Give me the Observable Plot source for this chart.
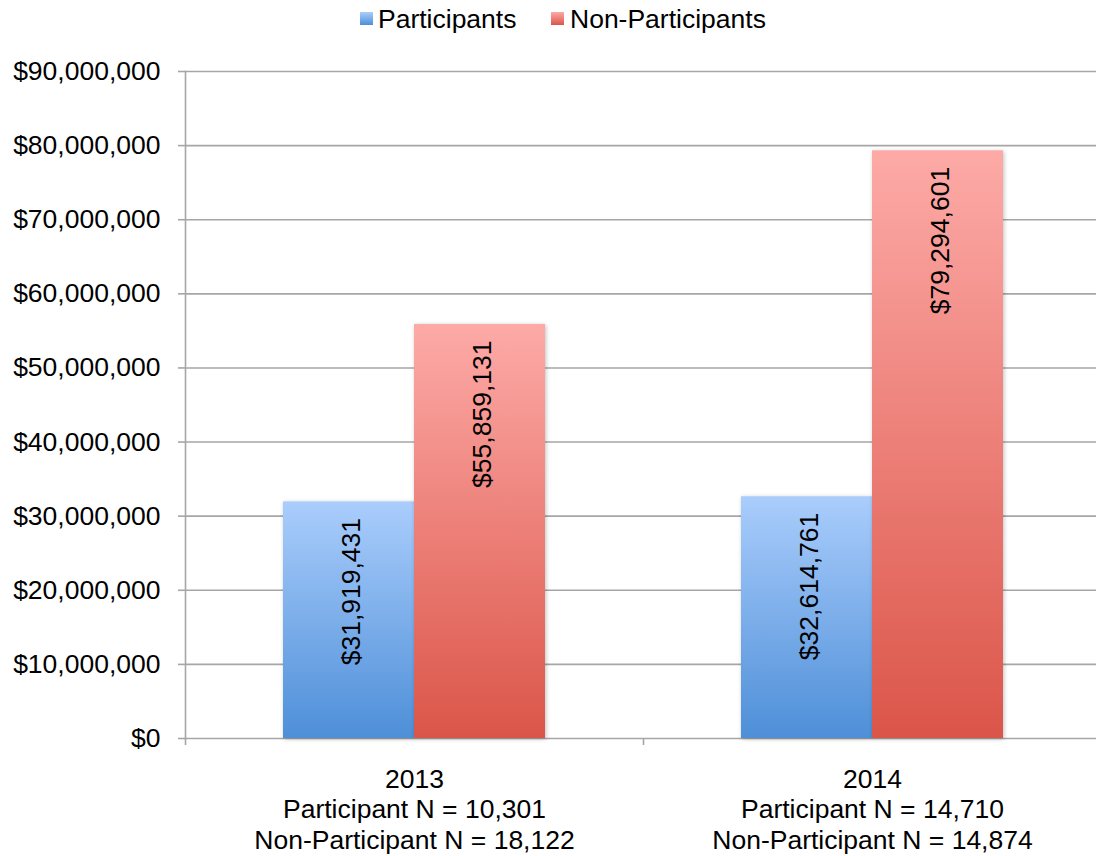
<!DOCTYPE html>
<html>
<head>
<meta charset="utf-8">
<script src="https://cdn.jsdelivr.net/npm/d3@7"></script>
<script src="https://cdn.jsdelivr.net/npm/@observablehq/plot@0.6"></script>
<style>
  html, body { margin: 0; padding: 0; background: #fff; }
  body { width: 1096px; height: 856px; overflow: hidden; font-family: "Liberation Sans", Arial, sans-serif; }
  #legend { position: relative; height: 40px; font-size: 26.5px; color: #000; }
  .item { position: absolute; top: 4px; line-height: 30px; white-space: nowrap; }
  .sw { position: absolute; top: 12px; width: 13px; height: 13px; }
</style>
</head>
<body>
<div id="legend"></div>
<div id="chart"></div>
<script>
// ---- data ----
const years = ["2013", "2014"];
const seriesNames = ["Participants", "Non-Participants"];
const participants = [31919431, 32614761];
const nonParticipants = [55859131, 79294601];
const participantN = ["10,301", "14,710"];
const nonParticipantN = ["18,122", "14,874"];
const yTicks = [0, 10000000, 20000000, 30000000, 40000000, 50000000, 60000000, 70000000, 80000000, 90000000];

const seriesColors = {
  "Participants": ["#aacdfc", "#4e8fd8"],
  "Non-Participants": ["#fdaaa7", "#db5549"]
};
const gradId = {"Participants": "gradBlue", "Non-Participants": "gradRed"};

const rows = years.flatMap((y, i) => [
  {year: y, series: "Participants", value: participants[i]},
  {year: y, series: "Non-Participants", value: nonParticipants[i]}
]);
const labelRows = years.map((y, i) => ({
  year: y,
  label: `${y}\nParticipant N = ${participantN[i]}\nNon-Participant N = ${nonParticipantN[i]}`
}));

const fmt = d => "$" + d3.format(",")(d);
const font = "'Liberation Sans', Arial, sans-serif";
const gray = "#a6a6a6";
const fs = 26.5;

// ---- legend ----
const legend = document.getElementById("legend");
const legendPos = {"Participants": [360, 378], "Non-Participants": [551, 570]};
for (const s of seriesNames) {
  const sw = document.createElement("div");
  sw.className = "sw";
  sw.style.left = legendPos[s][0] + "px";
  sw.style.background = `linear-gradient(${seriesColors[s][0]}, ${seriesColors[s][1]})`;
  legend.appendChild(sw);
  const t = document.createElement("div");
  t.className = "item";
  t.style.left = legendPos[s][1] + "px";
  t.textContent = s;
  legend.appendChild(t);
}

// ---- chart ----
const chart = Plot.plot({
  width: 1096,
  height: 816,
  marginTop: 31,
  marginBottom: 118,
  marginLeft: 185,
  marginRight: -5,
  style: {fontFamily: font, fontSize: fs + "px", color: "#000", background: "#fff", overflow: "visible"},
  fx: {domain: years, padding: 0, axis: null},
  x: {domain: seriesNames, paddingInner: 0, paddingOuter: 0.74, axis: null},
  y: {domain: [0, 90000000], axis: null},
  marks: [
    Plot.gridY(yTicks, {stroke: gray, strokeOpacity: 1, strokeWidth: 1.6}),
    Plot.axisY({ticks: yTicks, tickFormat: fmt, tickSize: 7, tickPadding: 18, fontSize: fs, stroke: gray, strokeWidth: 1.6, fill: "#000", label: null}),
    Plot.frame({anchor: "left", facet: "super", stroke: gray, strokeWidth: 1.6}),
    Plot.axisFx({anchor: "bottom", ticks: years, tickSize: 7, text: null, stroke: gray, strokeWidth: 1.6, dx: -229, label: null}),
    ...seriesNames.map(s => Plot.barY(rows.filter(d => d.series === s), {
      fx: "year", x: "series", y: "value",
      fill: `url(#${gradId[s]})`,
      imageFilter: "drop-shadow(1px 1px 2px rgba(0,0,0,0.25))"
    })),
    Plot.text(rows, {
      fx: "year", x: "series", y: "value",
      text: d => fmt(d.value),
      rotate: -90, textAnchor: "end", lineAnchor: "middle",
      dy: 16, dx: 3, fontSize: fs, fill: "#000"
    }),
    Plot.text(labelRows, {
      fx: "year", text: "label", frameAnchor: "bottom", lineAnchor: "top",
      dy: 27.5, lineHeight: 1.15, fontSize: fs, fill: "#000"
    })
  ]
});

// gradient definitions
const ns = "http://www.w3.org/2000/svg";
const defs = document.createElementNS(ns, "defs");
for (const s of seriesNames) {
  const g = document.createElementNS(ns, "linearGradient");
  g.setAttribute("id", gradId[s]);
  g.setAttribute("x1", "0"); g.setAttribute("y1", "0");
  g.setAttribute("x2", "0"); g.setAttribute("y2", "1");
  [[0, seriesColors[s][0]], [1, seriesColors[s][1]]].forEach(([o, c]) => {
    const st = document.createElementNS(ns, "stop");
    st.setAttribute("offset", o);
    st.setAttribute("stop-color", c);
    g.appendChild(st);
  });
  defs.appendChild(g);
}
chart.insertBefore(defs, chart.firstChild);
document.getElementById("chart").appendChild(chart);
</script>
</body>
</html>
